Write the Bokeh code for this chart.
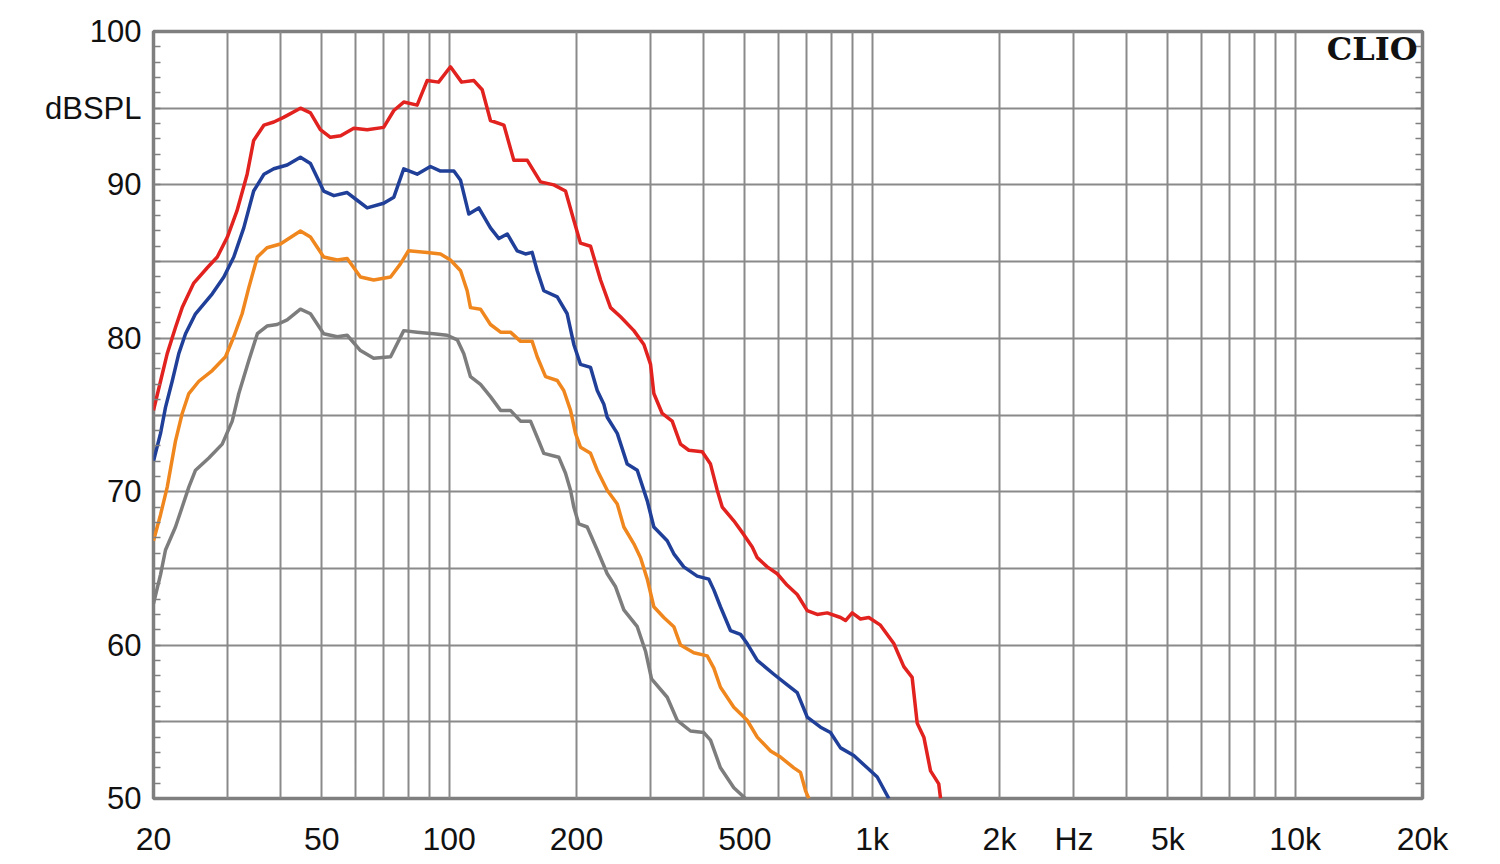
from bokeh.plotting import figure
from bokeh.models import Range1d, FixedTicker, LinearAxis, Label
from bokeh.embed import file_html
from bokeh.resources import INLINE

# ---- data (frequency in Hz, level in dB SPL) ----
red_f = [20, 20.78, 21.55, 22.54, 23.38, 24.9, 26.8, 28.3, 29.9, 31.5, 33.3, 34.5, 36.5, 38.5, 40.6, 44.5, 47.0, 49.6, 52.4, 55.4,
         59.5, 64.0, 70.0, 74.0, 78.1, 84.0, 88.7, 94.4, 100.7, 107, 114.4, 119.7, 125.2, 134.7, 142.2, 153, 164.4, 176.8, 188.4, 197.1,
         204.4, 215.9, 228, 240.7, 254.2, 273.3, 288.6, 299.3, 304.7, 318.9, 336.7, 352.3, 368.6, 396.5, 414.8, 430.2, 442.1, 470.9, 497.3, 520.6,
         535, 564.9, 596.5, 629.9, 665, 702.3, 741.5, 783, 841.8, 865, 897, 938.4, 981.9, 1046, 1125, 1188, 1243, 1278, 1325, 1374, 1437, 1451]
red_db = [75.3, 77.2, 79.0, 80.7, 82.0, 83.6, 84.6, 85.3, 86.6, 88.3, 90.7, 92.9, 93.9, 94.1, 94.4, 95.0, 94.7, 93.6, 93.1, 93.2,
          93.7, 93.6, 93.75, 94.85, 95.4, 95.2, 96.8, 96.7, 97.7, 96.7, 96.8, 96.2, 94.2, 93.9, 91.6, 91.6, 90.2, 90.0, 89.6, 87.7,
          86.2, 86.0, 83.8, 82.0, 81.4, 80.5, 79.6, 78.3, 76.4, 75.1, 74.6, 73.1, 72.7, 72.6, 71.8, 70.1, 69.0, 68.1, 67.2, 66.4,
          65.7, 65.1, 64.65, 63.9, 63.3, 62.25, 62.0, 62.1, 61.8, 61.6, 62.1, 61.7, 61.8, 61.3, 60.1, 58.6, 57.9, 54.9, 54.0, 51.8, 50.95, 50.0]

blue_f = [20, 20.78, 21.35, 22.14, 22.95, 23.81, 25.14, 27.54, 29.33, 30.96, 32.69, 34.5, 36.5, 38.5, 41.4, 44.5, 47.0, 50.5, 53.4, 57.4,
          60.6, 64.0, 70.0, 74.0, 78.1, 84.0, 90.3, 95.4, 102.6, 106.4, 111.3, 117.5, 125.2, 131.1, 137.2, 144.8, 151.5, 157.1, 161.5, 167.4,
          180.1, 190.1, 197.1, 204.4, 215.9, 223.9, 232.1, 236.4, 249.7, 263.6, 278.4, 294, 304.7, 327.7, 339.7, 358.6, 385.8, 411, 422.4, 437.9,
          462.4, 488.3, 506.4, 535, 585.6, 629.9, 665, 702.3, 755, 797, 841.8, 904.8, 973.3, 1028, 1095]
blue_db = [72.0, 73.8, 75.5, 77.2, 79.0, 80.3, 81.6, 82.9, 84.0, 85.3, 87.2, 89.6, 90.7, 91.05, 91.3, 91.8, 91.4, 89.6, 89.3, 89.5,
           89.0, 88.5, 88.8, 89.2, 91.05, 90.7, 91.2, 90.9, 90.9, 90.3, 88.1, 88.5, 87.2, 86.5, 86.8, 85.7, 85.5, 85.6, 84.4, 83.1,
           82.7, 81.6, 79.6, 78.3, 78.1, 76.6, 75.7, 74.85, 73.8, 71.8, 71.4, 69.4, 67.7, 66.8, 65.95, 65.1, 64.5, 64.3, 63.6, 62.5,
           60.95, 60.7, 60.1, 59.0, 58.1, 57.4, 56.9, 55.3, 54.65, 54.3, 53.3, 52.8, 52.0, 51.4, 50.0]

orange_f = [20, 20.78, 21.55, 22.54, 23.38, 24.24, 25.6, 27.54, 29.6, 30.96, 32.4, 33.6, 35.2, 37.1, 39.9, 44.5, 47.0, 50.5, 54.4, 57.4,
            61.7, 66.3, 72.7, 76.7, 80.1, 88.7, 95.4, 100.7, 106.4, 110.3, 112.3, 118.6, 125.2, 132.3, 139.6, 147.5, 157.1, 161.5, 169, 180.1,
            186.6, 193.6, 198.9, 204.4, 215.9, 223.9, 236.4, 249.7, 258.8, 273.3, 283.4, 294, 304.7, 321.7, 339.7, 352.3, 378.7, 407.4, 422.4, 437.9,
            470.9, 506.4, 535, 575.1, 607.2, 652.8, 677, 695.8, 708.5]
orange_db = [66.8, 68.5, 70.3, 73.3, 75.1, 76.4, 77.2, 77.9, 78.8, 80.1, 81.6, 83.3, 85.3, 85.9, 86.15, 87.0, 86.6, 85.3, 85.1, 85.2,
             84.0, 83.8, 84.0, 84.85, 85.7, 85.6, 85.5, 85.1, 84.4, 83.1, 82.0, 81.9, 80.9, 80.4, 80.4, 79.8, 79.8, 78.8, 77.5, 77.25,
             76.6, 75.3, 73.8, 72.9, 72.5, 71.4, 70.1, 69.2, 67.7, 66.6, 65.7, 64.3, 62.5, 61.8, 61.2, 60.0, 59.5, 59.3, 58.5, 57.25,
             55.95, 55.1, 54.0, 53.1, 52.7, 52.0, 51.7, 50.5, 50.0]

gray_f = [20, 20.78, 21.35, 22.54, 23.38, 24.24, 25.14, 27.03, 29.07, 30.7, 31.82, 33.6, 35.2, 37.1, 39.2, 41.4, 44.5, 47.0, 50.5, 54.4,
          57.4, 61.7, 66.3, 72.7, 78.1, 84.0, 91.9, 98.9, 104.5, 108.3, 112.3, 118.6, 125.2, 132.3, 139.6, 147.5, 155.7, 161.5, 167.4, 181.6,
          188.4, 193.6, 197.1, 202.5, 212, 223.9, 236.4, 247.4, 258.8, 278.4, 291.2, 300.9, 327.7, 346, 372, 399.9, 414.8, 437.9, 470.9, 501.8]
gray_db = [62.7, 64.6, 66.2, 67.7, 69.0, 70.3, 71.4, 72.2, 73.1, 74.6, 76.4, 78.55, 80.3, 80.8, 80.9, 81.2, 81.9, 81.6, 80.3, 80.1,
           80.2, 79.2, 78.7, 78.8, 80.5, 80.4, 80.3, 80.2, 79.9, 79.0, 77.5, 77.0, 76.2, 75.3, 75.3, 74.6, 74.6, 73.55, 72.5, 72.25,
           71.2, 70.1, 69.0, 67.9, 67.7, 66.2, 64.65, 63.8, 62.3, 61.2, 59.6, 57.8, 56.6, 55.1, 54.4, 54.3, 53.8, 52.0, 50.7, 50.0]

x_tick_values = [20, 50, 100, 200, 500, 1000, 2000, 3000, 5000, 10000, 20000]
x_tick_labels = ["20", "50", "100", "200", "500", "1k", "2k", "Hz", "5k", "10k", "20k"]
x_grid_values = [20, 30, 40, 50, 60, 70, 80, 90, 100, 200, 300, 400, 500, 600, 700, 800, 900,
                 1000, 2000, 3000, 4000, 5000, 6000, 7000, 8000, 9000, 10000]
y_tick_values = [50, 60, 70, 80, 90, 95, 100]
y_tick_labels = ["50", "60", "70", "80", "90", "dBSPL", "100"]
y_grid_values = [50, 55, 60, 65, 70, 75, 80, 85, 90, 95, 100]
y_minor_values = list(range(50, 101))

GRID = "#8a8a8a"
FRAME = "#7f7f7f"

p = figure(x_axis_type="log", x_range=Range1d(20, 20000), y_range=Range1d(50, 100),
           frame_width=1269, frame_height=767,
           min_border_left=153, min_border_right=74, min_border_top=31, min_border_bottom=60,
           output_backend="svg", toolbar_location=None,
           background_fill_color="white", border_fill_color="white")

p.outline_line_color = FRAME
p.outline_line_width = 3.5

# grid
p.xgrid.ticker = FixedTicker(ticks=x_grid_values)
p.ygrid.ticker = FixedTicker(ticks=y_grid_values)
for g in (p.xgrid, p.ygrid):
    g.grid_line_color = GRID
    g.grid_line_width = 2

# x axis
xa = p.xaxis[0]
xa.ticker = FixedTicker(ticks=x_tick_values)
xa.major_label_overrides = {v: t for v, t in zip(x_tick_values, x_tick_labels)}
xa.major_tick_line_color = None
xa.major_tick_out = 0
xa.major_tick_in = 0
xa.minor_tick_line_color = None
xa.axis_line_color = None
xa.major_label_standoff = 22
xa.major_label_text_font = "Liberation Sans"
xa.major_label_text_font_size = "32px"
xa.major_label_text_color = "#111111"

# y axis (left)
ya = p.yaxis[0]
ya.ticker = FixedTicker(ticks=y_tick_values, minor_ticks=y_minor_values)
ya.major_label_overrides = {v: t for v, t in zip(y_tick_values, y_tick_labels)}
ya.major_tick_line_color = None
ya.major_tick_out = 0
ya.major_tick_in = 0
ya.minor_tick_line_color = FRAME
ya.minor_tick_line_width = 1.5
ya.minor_tick_in = 7
ya.minor_tick_out = 0
ya.axis_line_color = None
ya.major_label_standoff = 12
ya.major_label_text_font = "Liberation Sans"
ya.major_label_text_font_size = "31px"
ya.major_label_text_color = "#111111"

# right axis with inward minor ticks only
ra = LinearAxis(ticker=FixedTicker(ticks=[], minor_ticks=y_minor_values))
ra.major_tick_line_color = None
ra.major_tick_out = 0
ra.minor_tick_line_color = FRAME
ra.minor_tick_line_width = 1.5
ra.minor_tick_in = 7
ra.minor_tick_out = 0
ra.axis_line_color = None
ra.major_label_text_font_size = "0px"
p.add_layout(ra, "right")

# curves
p.line(red_f, red_db, line_color="#e1221f", line_width=3.5, line_join="round")
p.line(blue_f, blue_db, line_color="#203f98", line_width=3.5, line_join="round")
p.line(orange_f, orange_db, line_color="#f0871e", line_width=3.5, line_join="round")
p.line(gray_f, gray_db, line_color="#7d7d7d", line_width=3.5, line_join="round")

p.add_layout(Label(x=20000, y=100, x_offset=-5, y_offset=-17, text="CLIO",
                   text_align="right", text_baseline="middle",
                   text_font="DejaVu Serif", text_font_style="bold",
                   text_font_size="32px", text_color="#111111"))

open("out.html", "w").write(file_html(p, INLINE))
